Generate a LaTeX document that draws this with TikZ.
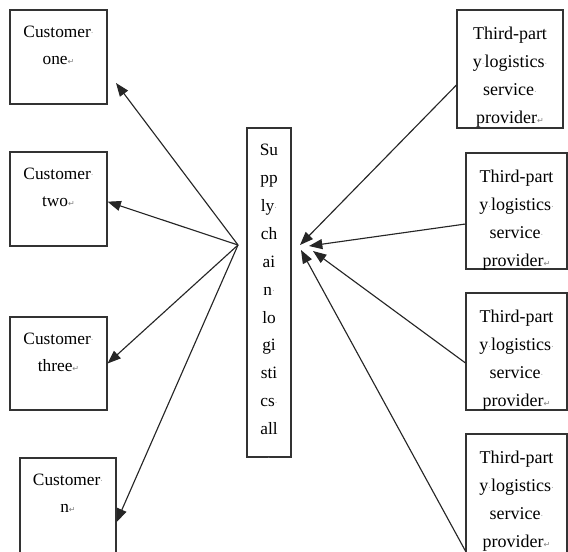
\documentclass[tikz,border=0pt]{standalone}
\usepackage{fontspec}
\setmainfont{Liberation Serif}
\newfontfamily\symfont{DejaVu Sans}
\usetikzlibrary{arrows.meta}
\newcommand{\wsp}{{\fontsize{6}{6}\selectfont\color{gray}\raisebox{0.4ex}{·}}}
\newcommand{\pmark}{{\symfont\fontsize{6}{6}\selectfont\color{gray}↵}}
\begin{document}
\begin{tikzpicture}
[x=0.75pt,y=-0.75pt,
  boxdecorate/.style 2 args={draw=black!80,line width=0.8pt,inner sep=0pt,
    minimum width=#1*0.75pt,minimum height=#2*0.75pt},
  textdecorate/.style={anchor=north,align=center,inner sep=0pt,
    font=\fontsize{13}{20.6}\selectfont},
  arrowdecorate/.style={-{Triangle[length=10pt,width=7.5pt]},line width=0.85pt,black!85}]
\useasboundingbox (0,0) rectangle (568,551);
% customer boxes
\node (c1) at (58.5,57) [boxdecorate={97}{94}] {};
\node (c1t) [textdecorate] at ([yshift=-12pt]c1.north) {Customer\wsp\\one\pmark};
\node (c2) at (58.5,199) [boxdecorate={97}{94}] {};
\node (c2t) [textdecorate] at ([yshift=-12pt]c2.north) {Customer\wsp\\two\pmark};
\node (c3) at (58.5,363.5) [boxdecorate={97}{93}] {};
\node (c3t) [textdecorate] at ([yshift=-12pt]c3.north) {Customer\wsp\\three\pmark};
\node (cn) at (68,522) [boxdecorate={96}{128}] {};
\node (cnt) [textdecorate] at ([yshift=-12pt]cn.north) {Customer\wsp\\n\pmark};
% supply chain box
\node (sc) at (269,292.5) [boxdecorate={44}{329}] {};
\node (sct) [textdecorate,font=\fontsize{13}{20.9}\selectfont] at ([yshift=-12.5pt]sc.north)
  {Su\\pp\\ly\wsp\\ch\\ai\\n\wsp\\lo\\gi\\sti\\cs\wsp\\all\\\wsp};
% third-party boxes
\node (tp1) at (510,69) [boxdecorate={106}{118}] {};
\node (tp1t) [textdecorate,font=\fontsize{13.5}{21}\selectfont] at ([yshift=-13pt]tp1.north)
  {Third-part\\y\wsp logistics\wsp\\service\wsp\\provider\pmark};
\node (tp2) at (516.5,211) [boxdecorate={101}{116}] {};
\node (tp2t) [textdecorate,font=\fontsize{13.5}{21}\selectfont] at ([yshift=-13pt]tp2.north)
  {Third-part\\y\wsp logistics\wsp\\service\wsp\\provider\pmark};
\node (tp3) at (516.5,351.5) [boxdecorate={101}{117}] {};
\node (tp3t) [textdecorate,font=\fontsize{13.5}{21}\selectfont] at ([yshift=-13pt]tp3.north)
  {Third-part\\y\wsp logistics\wsp\\service\wsp\\provider\pmark};
\node (tp4) at (516.5,497) [boxdecorate={101}{126}] {};
\node (tp4t) [textdecorate,font=\fontsize{13.5}{21}\selectfont] at ([yshift=-13pt]tp4.north)
  {Third-part\\y\wsp logistics\wsp\\service\wsp\\provider\pmark};
% arrow ends
\coordinate (hub) at (238,245);
\coordinate (c1tip) at (116,83);
\coordinate (e1) at (300,245);
\coordinate (e2) at (309,246);
\coordinate (e3) at (313,251);
\coordinate (e4) at (301,250);
% arrows
\draw[arrowdecorate] (hub) -- (c1tip);
\draw[arrowdecorate] (hub) -- ([yshift=-2pt]c2.east);
\draw[arrowdecorate] (hub) -- (c3.east);
\draw[arrowdecorate] (hub) -- (cn.east);
\draw[arrowdecorate] ([yshift=-12pt]tp1.west) -- (e1);
\draw[arrowdecorate] ([yshift=-9.75pt]tp2.west) -- (e2);
\draw[arrowdecorate] ([yshift=-8.6pt]tp3.west) -- (e3);
\draw[arrowdecorate] ([yshift=-40.5pt]tp4.west) -- (e4);
\end{tikzpicture}
\end{document}
